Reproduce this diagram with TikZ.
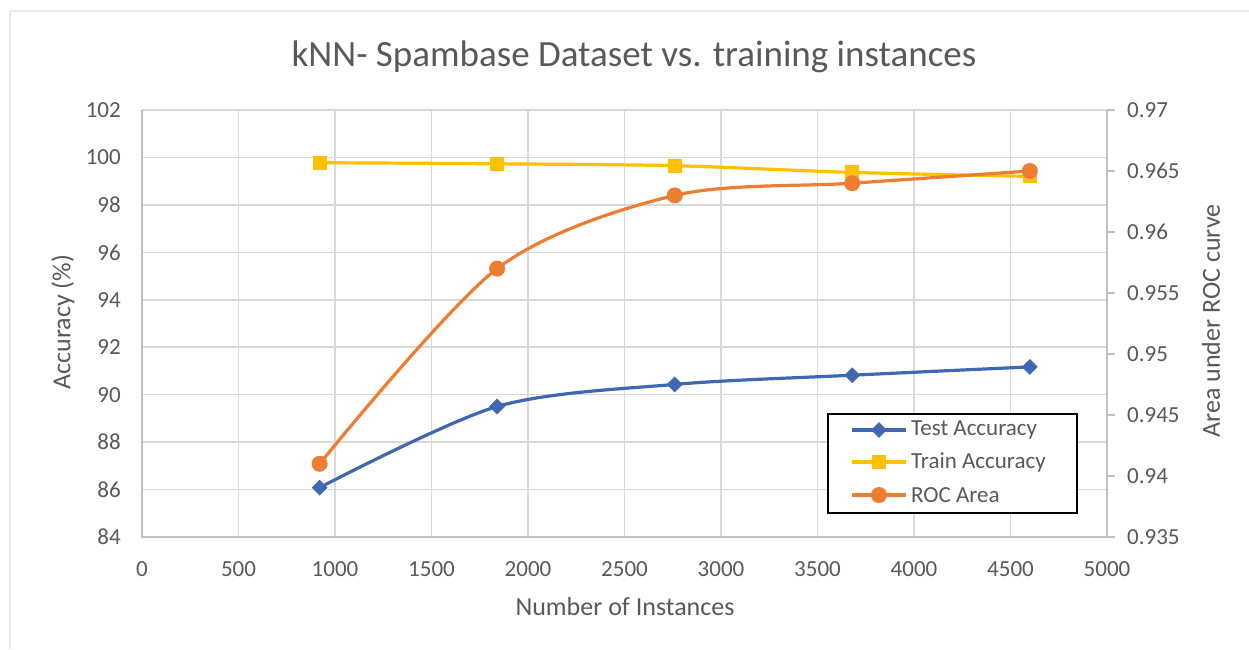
\documentclass[tikz,border=0pt]{standalone}
\usepackage{fontspec}
\setmainfont{Carlito}
\usetikzlibrary{shapes.geometric}
\definecolor{txt}{HTML}{595959}
\definecolor{grid}{HTML}{D9D9D9}
\definecolor{axis}{HTML}{BFBFBF}
\definecolor{cblue}{HTML}{4068B2}
\definecolor{cgold}{HTML}{FFC000}
\definecolor{corange}{HTML}{ED7D31}
\definecolor{frame}{HTML}{E4EAF4}
\tikzset{
  gridline/.style={grid, line width=1.5pt},
  axisline/.style={axis, line width=1.5pt},
  ticklab/.style={text=txt, font=\fontsize{23}{26}\selectfont, inner sep=0pt},
  axtitle/.style={text=txt, font=\fontsize{26}{30}\selectfont, inner sep=0pt},
  series/.style={line width=3.2pt, line join=round},
  diam/.style={diamond, fill=cblue, inner sep=0pt, minimum width=16pt, minimum height=16pt},
  sq/.style={rectangle, fill=cgold, inner sep=0pt, minimum size=14pt},
  circ/.style={circle, fill=corange, inner sep=0pt, minimum size=16pt},
  legbox/.style={draw=black, line width=1.5pt, fill=white},
}
\begin{document}
\begin{tikzpicture}[x=1pt,y=-1pt]
\useasboundingbox (0,0) rectangle (1249,649);
\fill[white] (0,0) rectangle (1249,649);
% faint outer frame
\draw[frame, line width=1.5pt] (10,649) -- (10,11) -- (1249,11);
% title
\node[text=txt, font=\fontsize{37}{41}\selectfont, inner sep=0pt] (title) at (634,57) {kNN- Spambase Dataset vs. training instances};
% horizontal gridlines (left axis 84..102, step 2)
\foreach \i in {0,...,8} {
  \draw[gridline] (142,{110+\i*47.44}) -- (1107,{110+\i*47.44});
}
% vertical gridlines
\foreach \i in {1,...,9} {
  \draw[gridline] ({142+\i*96.5},110) -- ({142+\i*96.5},537);
}
% axes
\draw[axisline] (142,110) -- (142,537) -- (1107,537);
\draw[axisline] (1107,110) -- (1107,537);
\foreach \i in {0,...,7} {
  \draw[axisline] (1107,{110+\i*61}) -- (1115,{110+\i*61});
}
% left tick labels
\foreach \v [count=\i from 0] in {102,100,98,96,94,92,90,88,86,84} {
  \node[ticklab, anchor=east] (l\i) at (121,{110+\i*47.44}) {\v};
}
% right tick labels
\foreach \v [count=\i from 0] in {0.97,0.965,0.96,0.955,0.95,0.945,0.94,0.935} {
  \node[ticklab, anchor=west] (r\i) at (1127,{110+\i*61}) {\v};
}
% bottom tick labels
\foreach \v [count=\i from 0] in {0,500,1000,1500,2000,2500,3000,3500,4000,4500,5000} {
  \node[ticklab] (b\i) at ({142+\i*96.5},569) {\v};
}
% axis titles
\node[axtitle] (xt) at (625,607) {Number of Instances};
\node[axtitle, rotate=90] (ylt) at (63,322) {Accuracy (\%)};
\node[axtitle, rotate=90] (yrt) at (1211,321) {Area under ROC curve};
% data coordinates
\coordinate (t1) at (319.6,487.6);
\coordinate (t2) at (497.1,406.5);
\coordinate (t3) at (674.7,384.4);
\coordinate (t4) at (852.2,375.2);
\coordinate (t5) at (1029.8,366.9);
\coordinate (a1) at (319.6,162.7);
\coordinate (a2) at (497.1,163.8);
\coordinate (a3) at (674.7,165.7);
\coordinate (a4) at (852.2,172.4);
\coordinate (a5) at (1029.8,176.4);
\coordinate (c1) at (319.6,463.8);
\coordinate (c2) at (497.1,268.6);
\coordinate (c3) at (674.7,195.4);
\coordinate (c4) at (852.2,183.2);
\coordinate (c5) at (1029.8,171.0);
% series
\draw[series, cblue] plot[smooth, tension=0.5] coordinates {(t1) (t2) (t3) (t4) (t5)};
\foreach \k in {1,...,5} \node[diam] (tm\k) at (t\k) {};
\draw[series, cgold] plot[smooth, tension=0.5] coordinates {(a1) (a2) (a3) (a4) (a5)};
\foreach \k in {1,...,5} \node[sq] (am\k) at (a\k) {};
\draw[series, corange] plot[smooth, tension=0.5] coordinates {(c1) (c2) (c3) (c4) (c5)};
\foreach \k in {1,...,5} \node[circ] (cm\k) at (c\k) {};
% legend
\draw[legbox] (828,414) rectangle (1077,513);
\coordinate (lg1a) at (852,430); \coordinate (lg1b) at (906,430);
\coordinate (lg2a) at (852,462); \coordinate (lg2b) at (906,462);
\coordinate (lg3a) at (852,495); \coordinate (lg3b) at (906,495);
\draw[series, cblue] (lg1a) -- (lg1b);
\node[diam] (lgm1) at (879,430) {};
\draw[series, cgold] (lg2a) -- (lg2b);
\node[sq] (lgm2) at (879,462) {};
\draw[series, corange] (lg3a) -- (lg3b);
\node[circ] (lgm3) at (879,495) {};
\node[ticklab, anchor=west] (lt1) at (911,430) {Test Accuracy};
\node[ticklab, anchor=west] (lt2) at (911,462) {Train Accuracy};
\node[ticklab, anchor=west] (lt3) at (911,495) {ROC Area};
\end{tikzpicture}
\end{document}
